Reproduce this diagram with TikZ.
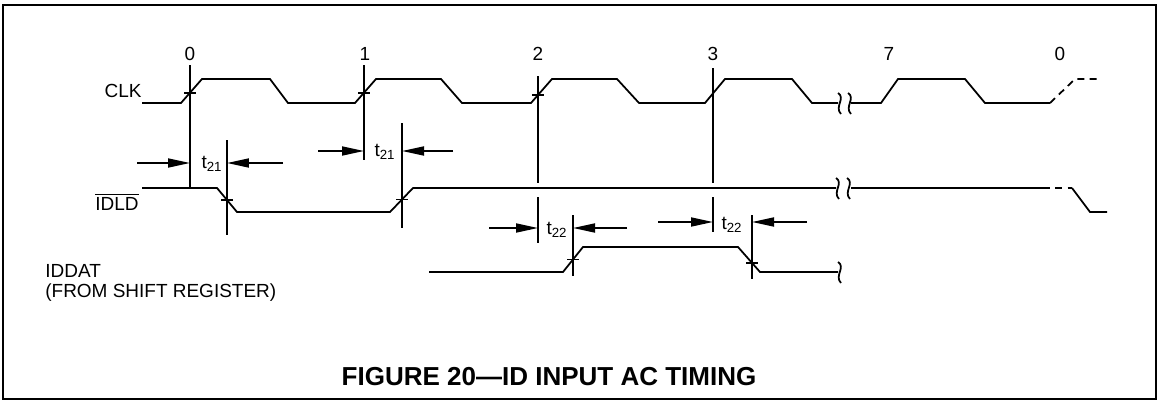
\documentclass[tikz,border=0pt]{standalone}
\usepackage{fontspec}
\setmainfont{Liberation Sans}
\usetikzlibrary{arrows.meta,positioning,calc}

\begin{document}
\begin{tikzpicture}[x=0.02cm,y=-0.02cm,font=\fontsize{10.8}{12}\selectfont,
    wave/.style={line width=1pt,line join=miter},
    refline/.style={line width=1pt},
    dimarrow/.style={line width=1pt,-{Triangle[length=4.4mm,width=1.8mm]}},
    cross/.style={line width=1.1pt},
    gap/.style={line width=1pt},
    lbl/.style={inner sep=0pt}]
  \useasboundingbox (0,0) rectangle (1162,409);
  \draw[line width=1.3pt] (3,5) rectangle (1156,399);

  % clock numbers
  \node[lbl,anchor=base] (n0) at (190,60) {0};
  \node[lbl,anchor=base] (n1) at (365,60) {1};
  \node[lbl,anchor=base] (n2) at (538,60) {2};
  \node[lbl,anchor=base] (n3) at (713,60) {3};
  \node[lbl,anchor=base] (n7) at (889,60) {7};
  \node[lbl,anchor=base] (n8) at (1060,60) {0};

  % signal names
  \node[lbl,anchor=base east] (clk) at (142,97) {CLK};
  \node[lbl,anchor=base east] (idld) at (139,210) {$\overline{\mbox{IDLD}}$};
  \node[lbl,anchor=base west] (iddat) at (45,277) {IDDAT};
  \node[lbl,anchor=base west] (src) at (45,297) {(FROM SHIFT REGISTER)};

  % CLK
  \draw[wave] (142,103) -- (181,103) -- (202,79) -- (270,79) -- (288,103) -- (355,103)
    -- (376,79) -- (441,79) -- (462,103) -- (531,103) -- (552,79) -- (617,79) -- (639,103)
    -- (705,103) -- (725,79) -- (792,79) -- (812,103) -- (838,103);
  \draw[wave] (851,103) -- (881,103) -- (898,79) -- (965,79) -- (985,103) -- (1050,103);
  \draw[wave,dash pattern=on 4pt off 3pt] (1050,103) -- (1075,79) -- (1097,79);

  % IDLD
  \draw[wave] (142,188) -- (217,188) -- (237,212) -- (390,212) -- (413,188) -- (836,188);
  \draw[wave] (851,188) -- (1043,188);
  \draw[wave,dash pattern=on 4pt off 3pt] (1043,188) -- (1072,188);
  \draw[wave] (1072,188) -- (1090,212) -- (1107,212);

  % IDDAT
  \draw[wave] (429,272) -- (563,272) -- (583,247) -- (738,247) -- (760,272) -- (838,272);

  % breaks
  \foreach \bx/\by in {840/103,850/103,838/188,849/188,840/272}
    \draw[gap] (\bx-2,\by-10) .. controls (\bx+6,\by-5) and (\bx-6,\by+4) .. (\bx+1,\by+11);

  % reference lines
  \draw[refline] (190,65) -- (190,188);
  \draw[refline] (364,65) -- (364,160);
  \draw[refline] (538,76) -- (538,183) (538,197) -- (538,243);
  \draw[refline] (713,68) -- (713,183) (713,197) -- (713,232);
  \draw[refline] (227,140) -- (227,235);
  \draw[refline] (402,123) -- (402,228);
  \draw[refline] (573,215) -- (573,276);
  \draw[refline] (752,215) -- (752,279);

  % crossings
  \foreach \cx/\cy in {190/92.7,364/92.7,538/95,227/200,402/199.5,573/259.5,752/263}
    \draw[cross] (\cx-6,\cy) -- (\cx+6,\cy);

  % t21 / t22
  \draw[dimarrow] (137,163) -- (190,163);
  \draw[dimarrow] (283,163) -- (227,163);
  \node[lbl] (ta) at (212,164) {t\textsubscript{21}};
  \draw[dimarrow] (318,151) -- (364,151);
  \draw[dimarrow] (453,151) -- (402,151);
  \node[lbl] (tb) at (385,152) {t\textsubscript{21}};
  \draw[dimarrow] (489,228) -- (538,228);
  \draw[dimarrow] (627,228) -- (573,228);
  \node[lbl] (tc) at (557,230) {t\textsubscript{22}};
  \draw[dimarrow] (658,222) -- (713,222);
  \draw[dimarrow] (807,222) -- (752,222);
  \node[lbl] (td) at (732,225) {t\textsubscript{22}};

  \node[lbl,font=\bfseries\fontsize{14.8}{17}\selectfont] (title) at (549,377) {FIGURE 20—ID INPUT AC TIMING};
\end{tikzpicture}
\end{document}
